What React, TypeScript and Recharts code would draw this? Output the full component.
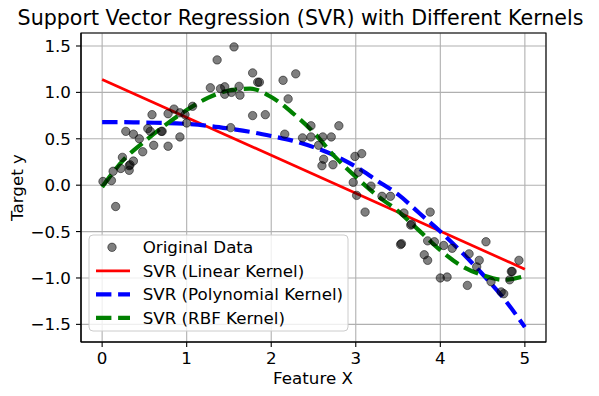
import { ComposedChart, Scatter, Line, XAxis, YAxis, CartesianGrid, ReferenceArea } from "recharts";

const W = 599;
const H = 396;
const FONT = "'DejaVu Sans', sans-serif";

const X_TICKS = [0, 1, 2, 3, 4, 5];
const Y_TICKS = [-1.5, -1, -0.5, 0, 0.5, 1, 1.5];
const X_DOMAIN = [-0.25, 5.25];
const Y_DOMAIN = [-1.69, 1.64];

// noisy samples
const DATA_X = [
  0.01, 0.11, 0.13, 0.16, 0.22, 0.24, 0.28, 0.32, 0.32, 0.33, 0.37, 0.37, 0.44, 0.48, 0.54, 0.57,
  0.59, 0.61, 0.7, 0.71, 0.78, 0.78, 0.85, 0.92, 0.92, 0.98, 1.0, 1.07, 1.28, 1.36, 1.4, 1.45,
  1.45, 1.52, 1.53, 1.56, 1.62, 1.63, 1.78, 1.78, 1.84, 1.86, 1.93, 2.14, 2.16, 2.2, 2.29, 2.37,
  2.47, 2.47, 2.56, 2.6, 2.62, 2.61, 2.71, 2.73, 2.8, 2.97, 2.99, 3.01, 3.03, 3.07, 3.11, 3.18,
  3.31, 3.41, 3.53, 3.54, 3.57, 3.65, 3.66, 3.81, 3.85, 3.85, 3.88, 3.93, 4.0, 4.04, 4.08, 4.14,
  4.32, 4.34, 4.43, 4.46, 4.54, 4.6, 4.72, 4.75, 4.82, 4.84, 4.85, 4.93,
];
const DATA_Y = [
  0.04, 0.05, 0.15, -0.23, 0.18, 0.3, 0.58, 0.16, 0.21, 0.22, 0.26, 0.55, 0.5, 0.36, 0.61, 0.58,
  0.76, 0.43, 0.58, 0.58, 0.42, 0.77, 0.82, 0.52, 0.78, 0.76, 0.67, 0.85, 1.05, 1.35, 1.04, 1.06,
  0.98, 0.62, 1.0, 1.49, 1.065, 0.97, 1.21, 0.75, 1.11, 1.11, 0.76, 1.13, 0.55, 0.93, 1.2, 0.51,
  0.52, 0.64, 0.43, 0.21, 0.28, 0.52, 0.52, 0.22, 0.64, 0.03, 0.31, -0.11, 0.14, 0.34, -0.29, -0.01,
  -0.12, -0.12, -0.64, -0.63, -0.3, -0.43, -0.42, -0.75, -0.6, -0.81, -0.29, -0.61, -1.0, -0.65, -0.99, -0.68,
  -1.08, -0.74, -0.88, -0.81, -0.61, -1.04, -1.15, -1.17, -1.02, -0.93, -0.93, -0.81,
];

// model predictions
const LINEAR_X = [0, 5];
const LINEAR_Y = [1.14, -0.905];
const CURVE_X = [0, 0.25, 0.5, 0.75, 1, 1.25, 1.5, 1.75, 2, 2.25, 2.5, 2.75, 3, 3.25, 3.5, 3.75, 4, 4.25, 4.5, 4.75, 5];
const POLY_Y = [0.68, 0.68, 0.675, 0.67, 0.66, 0.64, 0.61, 0.575, 0.53, 0.48, 0.41, 0.32, 0.2, 0.05, -0.1, -0.3, -0.5, -0.72, -0.96, -1.22, -1.53];
const RBF_Y = [-0.02, 0.27, 0.47, 0.65, 0.81, 0.94, 1.02, 1.04, 0.95, 0.78, 0.57, 0.31, 0.09, -0.11, -0.28, -0.49, -0.7, -0.87, -0.97, -1.02, -0.98];

const points = DATA_X.map((x, i) => ({ x, y: DATA_Y[i] }));
const linear = LINEAR_X.map((x, i) => ({ x, y: LINEAR_Y[i] }));
const poly = CURVE_X.map((x, i) => ({ x, y: POLY_Y[i] }));
const rbf = CURVE_X.map((x, i) => ({ x, y: RBF_Y[i] }));

const fmtY = (v: number) => (v < 0 ? "\u2212" : "") + Math.abs(v).toFixed(1);

const TICK = { fill: "#000", fontSize: 16.7, fontFamily: FONT };

function Dot(props: any) {
  return (
    <circle cx={props.cx} cy={props.cy} r={4.2} fill="#000" fillOpacity={0.5} stroke="#000" strokeOpacity={0.5} strokeWidth={1} />
  );
}

function LegendBox() {
  const rows = [
    { label: "Original Data", kind: "dot", color: "#000" },
    { label: "SVR (Linear Kernel)", kind: "solid", color: "#ff0000" },
    { label: "SVR (Polynomial Kernel)", kind: "dash", color: "#0000ff" },
    { label: "SVR (RBF Kernel)", kind: "dash", color: "#008000" },
  ];
  return (
    <svg width={262} height={99} style={{ position: "absolute", left: 88, top: 234 }}>
      <rect x={1} y={1} width={259} height={96} rx={4} fill="#fff" fillOpacity={0.8} stroke="#cccccc" strokeWidth={1} />
      {rows.map((r, i) => {
        const cy = 13.3 + i * 23.5;
        return (
          <g key={r.label}>
            {r.kind === "dot" && <circle cx={24} cy={cy} r={4.2} fill="#000" fillOpacity={0.5} stroke="#000" strokeOpacity={0.5} />}
            {r.kind === "solid" && <line x1={8} x2={42} y1={cy} y2={cy} stroke={r.color} strokeWidth={2.7} />}
            {r.kind === "dash" && (
              <line x1={8} x2={42} y1={cy} y2={cy} stroke={r.color} strokeWidth={4.2} strokeDasharray="15.4 6.7" />
            )}
            <text x={54.7} y={cy + 6} fontSize={16.7} fontFamily={FONT} fill="#000">
              {r.label}
            </text>
          </g>
        );
      })}
    </svg>
  );
}

export default function App() {
  return (
    <div style={{ position: "absolute", left: 0, top: 0, width: W, height: H, background: "#fff", fontFamily: FONT }}>
      <ComposedChart width={W} height={H} margin={{ top: 33, right: 53, bottom: 0, left: 0 }}>
        <CartesianGrid stroke="#b0b0b0" strokeWidth={1.1} />
        <XAxis
          type="number"
          dataKey="x"
          domain={X_DOMAIN}
          ticks={X_TICKS}
          interval={0}
          allowDataOverflow
          height={54}
          tickSize={5}
          tickMargin={5}
          tick={TICK}
          tickLine={{ stroke: "#000", strokeWidth: 1.1 }}
          axisLine={{ stroke: "#000", strokeWidth: 1.1 }}
        />
        <YAxis
          type="number"
          dataKey="y"
          domain={Y_DOMAIN}
          ticks={Y_TICKS}
          interval={0}
          allowDataOverflow
          width={81}
          tickSize={5}
          tickMargin={5}
          tick={TICK}
          tickFormatter={fmtY}
          tickLine={{ stroke: "#000", strokeWidth: 1.1 }}
          axisLine={{ stroke: "#000", strokeWidth: 1.1 }}
        />
        <Scatter data={points} shape={Dot} isAnimationActive={false} />
        <Line data={linear} dataKey="y" type="linear" stroke="#ff0000" strokeWidth={2.7} dot={false} activeDot={false} isAnimationActive={false} />
        <Line data={poly} dataKey="y" type="monotone" stroke="#0000ff" strokeWidth={4.2} strokeDasharray="15.4 6.7" dot={false} activeDot={false} isAnimationActive={false} />
        <Line data={rbf} dataKey="y" type="monotone" stroke="#008000" strokeWidth={4.2} strokeDasharray="15.4 6.7" dot={false} activeDot={false} isAnimationActive={false} />
        <ReferenceArea x1={X_DOMAIN[0]} x2={X_DOMAIN[1]} y1={Y_DOMAIN[0]} y2={Y_DOMAIN[1]} fill="none" stroke="#000" strokeWidth={1.1} fillOpacity={0} />
      </ComposedChart>
      <svg width={W} height={H} style={{ position: "absolute", left: 0, top: 0, pointerEvents: "none" }}>
        <text x={300.5} y={25} textAnchor="middle" fontSize={20.6} fontFamily={FONT} fill="#000">
          Support Vector Regression (SVR) with Different Kernels
        </text>
        <text x={313} y={384} textAnchor="middle" fontSize={16.7} fontFamily={FONT} fill="#000">
          Feature X
        </text>
        <text x={22.5} y={187.5} transform="rotate(-90 22.5 187.5)" textAnchor="middle" fontSize={16.7} fontFamily={FONT} fill="#000">
          Target y
        </text>
      </svg>
      <LegendBox />
    </div>
  );
}
